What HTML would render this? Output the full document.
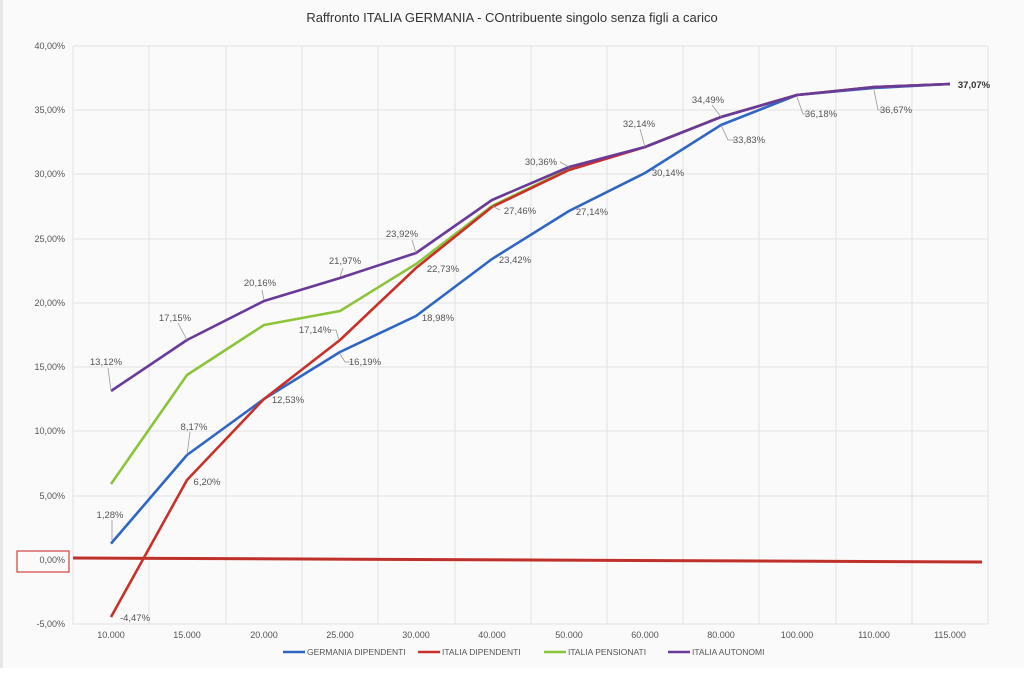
<!DOCTYPE html>
<html><head><meta charset="utf-8"><style>
html,body{margin:0;padding:0;background:#fff;}
svg{display:block;font-family:"Liberation Sans",sans-serif;}
</style></head><body>
<svg width="1024" height="675" viewBox="0 0 1024 675">
<rect x="0" y="0" width="1024" height="668" fill="#fafafa"/>
<rect x="0" y="0" width="3" height="668" fill="#e6e6e6"/>
<text x="512" y="22" font-size="13" fill="#333" text-anchor="middle">Raffronto ITALIA GERMANIA - COntribuente singolo senza figli a carico</text>
<g stroke="#e2e2e2" stroke-width="1">
<line x1="73" y1="46" x2="988" y2="46"/><line x1="73" y1="110" x2="988" y2="110"/><line x1="73" y1="174" x2="988" y2="174"/><line x1="73" y1="239" x2="988" y2="239"/><line x1="73" y1="303" x2="988" y2="303"/><line x1="73" y1="367" x2="988" y2="367"/><line x1="73" y1="431" x2="988" y2="431"/><line x1="73" y1="496" x2="988" y2="496"/><line x1="73" y1="624" x2="988" y2="624"/>
<line x1="73" y1="46" x2="73" y2="624"/><line x1="149" y1="46" x2="149" y2="624"/><line x1="226" y1="46" x2="226" y2="624"/><line x1="302" y1="46" x2="302" y2="624"/><line x1="378" y1="46" x2="378" y2="624"/><line x1="455" y1="46" x2="455" y2="624"/><line x1="531" y1="46" x2="531" y2="624"/><line x1="607" y1="46" x2="607" y2="624"/><line x1="683" y1="46" x2="683" y2="624"/><line x1="759" y1="46" x2="759" y2="624"/><line x1="836" y1="46" x2="836" y2="624"/><line x1="912" y1="46" x2="912" y2="624"/><line x1="988" y1="46" x2="988" y2="624"/>
</g>
<g font-size="9" fill="#555" text-anchor="end">
<text x="65" y="49">40,00%</text><text x="65" y="113">35,00%</text><text x="65" y="177">30,00%</text><text x="65" y="242">25,00%</text><text x="65" y="306">20,00%</text><text x="65" y="370">15,00%</text><text x="65" y="434">10,00%</text><text x="65" y="499">5,00%</text><text x="65" y="563">0,00%</text><text x="65" y="627">-5,00%</text>
</g>
<rect x="17" y="551" width="52" height="21" fill="none" stroke="#d04040" stroke-width="1.2"/>
<g font-size="9" fill="#555" text-anchor="middle">
<text x="111" y="638">10.000</text><text x="187" y="638">15.000</text><text x="264" y="638">20.000</text><text x="340" y="638">25.000</text><text x="416" y="638">30.000</text><text x="492" y="638">40.000</text><text x="569" y="638">50.000</text><text x="645" y="638">60.000</text><text x="721" y="638">80.000</text><text x="797" y="638">100.000</text><text x="874" y="638">110.000</text><text x="950" y="638">115.000</text>
</g>
<line x1="73" y1="558" x2="982" y2="562" stroke="#c0302a" stroke-width="3"/>
<g fill="none" stroke-width="2.6" stroke-linejoin="round">
<polyline stroke="#2f66c4" points="111,543.6 187,455 264,399 340,352 416,316 492,259 569,211 645,173 721,125 797,95 874,88 950,84"/>
<polyline stroke="#8cc43c" points="111,484 187,375 264,325 340,311 416,264 492,206 569,169 645,147 721,117 797,95 874,87 950,84"/>
<polyline stroke="#c8302a" points="111,617 187,480 264,399 340,340 416,268 492,207 569,170 645,147 721,117 797,95 874,87 950,84"/>
<polyline stroke="#6a3a9a" points="111,391 187,340 264,301 340,278 416,253 492,200 569,167 645,147 721,117 797,95 874,87 950,84"/>
</g>
<g stroke="#999" stroke-width="0.8" fill="none">
<polyline points="112,540 112,520"/><polyline points="340,354 345,362 352,362"/><polyline points="797,97 803,114 808,114"/><polyline points="874,90 878,110 884,110"/><polyline points="339,340 336,330 330,330"/><polyline points="264,300 262,290"/><polyline points="416,253 412,240"/><polyline points="492,206 500,210"/><polyline points="340,277 343,268"/><polyline points="187,455 190,432"/><polyline points="111,391 108,368"/><polyline points="187,340 178,323"/><polyline points="721,117 712,105"/><polyline points="645,147 640,129"/><polyline points="569,167 560,162"/><polyline points="721,125 728,140 735,140"/>
</g>
<g font-size="9.5" fill="#555" text-anchor="middle">
<text x="110" y="518">1,28%</text><text x="194" y="430">8,17%</text><text x="288" y="403">12,53%</text><text x="365" y="365">16,19%</text><text x="438" y="321">18,98%</text><text x="515" y="263">23,42%</text><text x="592" y="215">27,14%</text><text x="668" y="176">30,14%</text><text x="749" y="143">33,83%</text><text x="821" y="117">36,18%</text><text x="896" y="113">36,67%</text>
<text x="974" y="88" font-weight="bold" fill="#333">37,07%</text>
<text x="135" y="621">-4,47%</text><text x="207" y="485">6,20%</text><text x="315" y="333">17,14%</text><text x="443" y="272">22,73%</text><text x="520" y="214">27,46%</text><text x="541" y="165">30,36%</text><text x="639" y="127">32,14%</text><text x="708" y="103">34,49%</text>
<text x="402" y="237">23,92%</text><text x="345" y="264">21,97%</text><text x="260" y="286">20,16%</text><text x="175" y="321">17,15%</text><text x="106" y="365">13,12%</text>
</g>
<g font-size="8.5" fill="#555">
<line x1="283" y1="652" x2="305" y2="652" stroke="#2f66c4" stroke-width="2.5"/><text x="307" y="655">GERMANIA DIPENDENTI</text>
<line x1="418" y1="652" x2="440" y2="652" stroke="#c8302a" stroke-width="2.5"/><text x="442" y="655">ITALIA DIPENDENTI</text>
<line x1="544" y1="652" x2="566" y2="652" stroke="#8cc43c" stroke-width="2.5"/><text x="568" y="655">ITALIA PENSIONATI</text>
<line x1="668" y1="652" x2="690" y2="652" stroke="#6a3a9a" stroke-width="2.5"/><text x="692" y="655">ITALIA AUTONOMI</text>
</g>
</svg>
</body></html>
